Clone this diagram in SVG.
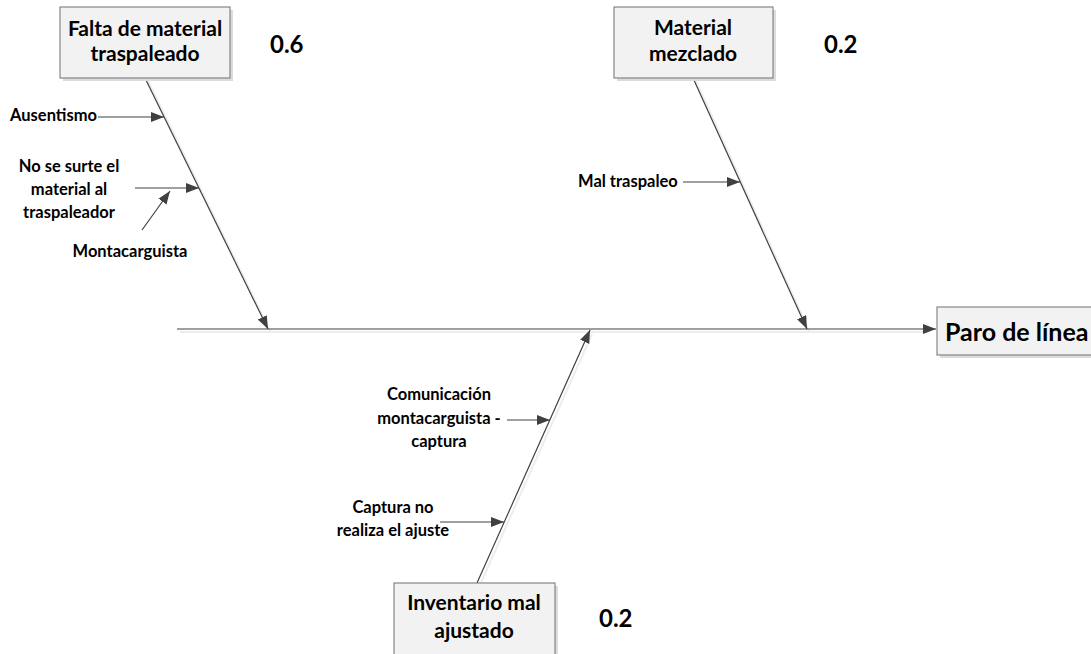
<svg xmlns="http://www.w3.org/2000/svg" width="1091" height="654" viewBox="0 0 1091 654">
  <style>
    .box { fill: #f2f2f2; stroke: #707070; stroke-width: 1; }
    .shadow { fill: #dcdcdc; }
    .ln { stroke: #404040; stroke-width: 1.2; fill: none; }
    .lnsh { stroke: #ededed; stroke-width: 2; fill: none; }
    .t { font-family: Lato, "Open Sans", "Liberation Sans", sans-serif; font-weight: bold; fill: #000; }
    .big { font-size: 21px; }
    .small { font-size: 16.5px; }
    .num { font-size: 24px; }
    .head { font-size: 25px; }
  </style>
  <defs>
    <marker id="arr" markerUnits="userSpaceOnUse" markerWidth="14" markerHeight="12" refX="13" refY="5" orient="auto">
      <path d="M0,0 L13,5 L0,10 Z" fill="#404040"/>
    </marker>
  </defs>

  <!-- connectors -->
  <g id="connectors">
    <!-- soft drop shadows under the spine and bones -->
    <g class="lnsh">
      <line x1="180" y1="332" x2="924" y2="332"/>
      <line x1="148" y1="81" x2="270" y2="331"/>
      <line x1="696" y1="81" x2="809" y2="331"/>
      <line x1="480" y1="585" x2="592" y2="334"/>
    </g>
    <!-- spine -->
    <line class="ln" x1="177" y1="329" x2="936" y2="329" marker-end="url(#arr)"/>
    <!-- main bones -->
    <line class="ln" x1="145" y1="78" x2="268" y2="329" marker-end="url(#arr)"/>
    <line class="ln" x1="693" y1="78" x2="807" y2="329" marker-end="url(#arr)"/>
    <line class="ln" x1="477" y1="583" x2="590" y2="330" marker-end="url(#arr)"/>
    <!-- sub-causes -->
    <line class="ln" x1="98" y1="117" x2="164" y2="117" marker-end="url(#arr)"/>
    <line class="ln" x1="135" y1="188" x2="199" y2="188" marker-end="url(#arr)"/>
    <line class="ln" x1="142" y1="230" x2="170" y2="191" marker-end="url(#arr)"/>
    <line class="ln" x1="683" y1="182" x2="740" y2="182" marker-end="url(#arr)"/>
    <line class="ln" x1="507" y1="420" x2="550" y2="420" marker-end="url(#arr)"/>
    <line class="ln" x1="440" y1="522" x2="504" y2="522" marker-end="url(#arr)"/>
  </g>

  <!-- category: Falta de material traspaleado -->
  <g id="cat-falta">
    <rect class="shadow" x="63" y="10" width="170" height="71"/>
    <rect class="box" x="60" y="7" width="170" height="71"/>
    <text class="t big" x="145" y="36" text-anchor="middle">Falta de material</text>
    <text class="t big" x="145" y="61" text-anchor="middle">traspaleado</text>
  </g>
  <text id="w-falta" class="t num" x="270" y="53">0.6</text>

  <!-- category: Material mezclado -->
  <g id="cat-mezclado">
    <rect class="shadow" x="617" y="10" width="159" height="71"/>
    <rect class="box" x="614" y="7" width="159" height="71"/>
    <text class="t big" x="693" y="35" text-anchor="middle">Material</text>
    <text class="t big" x="693" y="61" text-anchor="middle">mezclado</text>
  </g>
  <text id="w-mezclado" class="t num" x="824" y="53">0.2</text>

  <!-- category: Inventario mal ajustado -->
  <g id="cat-inventario">
    <rect class="shadow" x="397" y="586" width="161" height="72"/>
    <rect class="box" x="394" y="583" width="161" height="72"/>
    <text class="t big" x="474" y="610" text-anchor="middle">Inventario mal</text>
    <text class="t big" x="474" y="638" text-anchor="middle">ajustado</text>
  </g>
  <text id="w-inventario" class="t num" x="599" y="627">0.2</text>

  <!-- effect -->
  <g id="effect">
    <rect class="shadow" x="940" y="310" width="160" height="48"/>
    <rect class="box" x="937" y="307" width="160" height="48"/>
    <text class="t head" x="945" y="341">Paro de línea</text>
  </g>

  <!-- causes -->
  <g id="cause-ausentismo">
    <text class="t small" x="10" y="121">Ausentismo</text>
  </g>
  <g id="cause-surtido">
    <text class="t small" x="69" y="172" text-anchor="middle">No se surte el</text>
    <text class="t small" x="69" y="195" text-anchor="middle">material al</text>
    <text class="t small" x="69" y="218" text-anchor="middle">traspaleador</text>
  </g>
  <g id="cause-montacarguista">
    <text class="t small" x="130" y="257" text-anchor="middle">Montacarguista</text>
  </g>
  <g id="cause-traspaleo">
    <text class="t small" x="578" y="187">Mal traspaleo</text>
  </g>
  <g id="cause-comunicacion">
    <text class="t small" x="439" y="400" text-anchor="middle">Comunicación</text>
    <text class="t small" x="439" y="424" text-anchor="middle">montacarguista -</text>
    <text class="t small" x="439" y="447" text-anchor="middle">captura</text>
  </g>
  <g id="cause-captura">
    <text class="t small" x="393" y="513" text-anchor="middle">Captura no</text>
    <text class="t small" x="393" y="536" text-anchor="middle">realiza el ajuste</text>
  </g>
</svg>
